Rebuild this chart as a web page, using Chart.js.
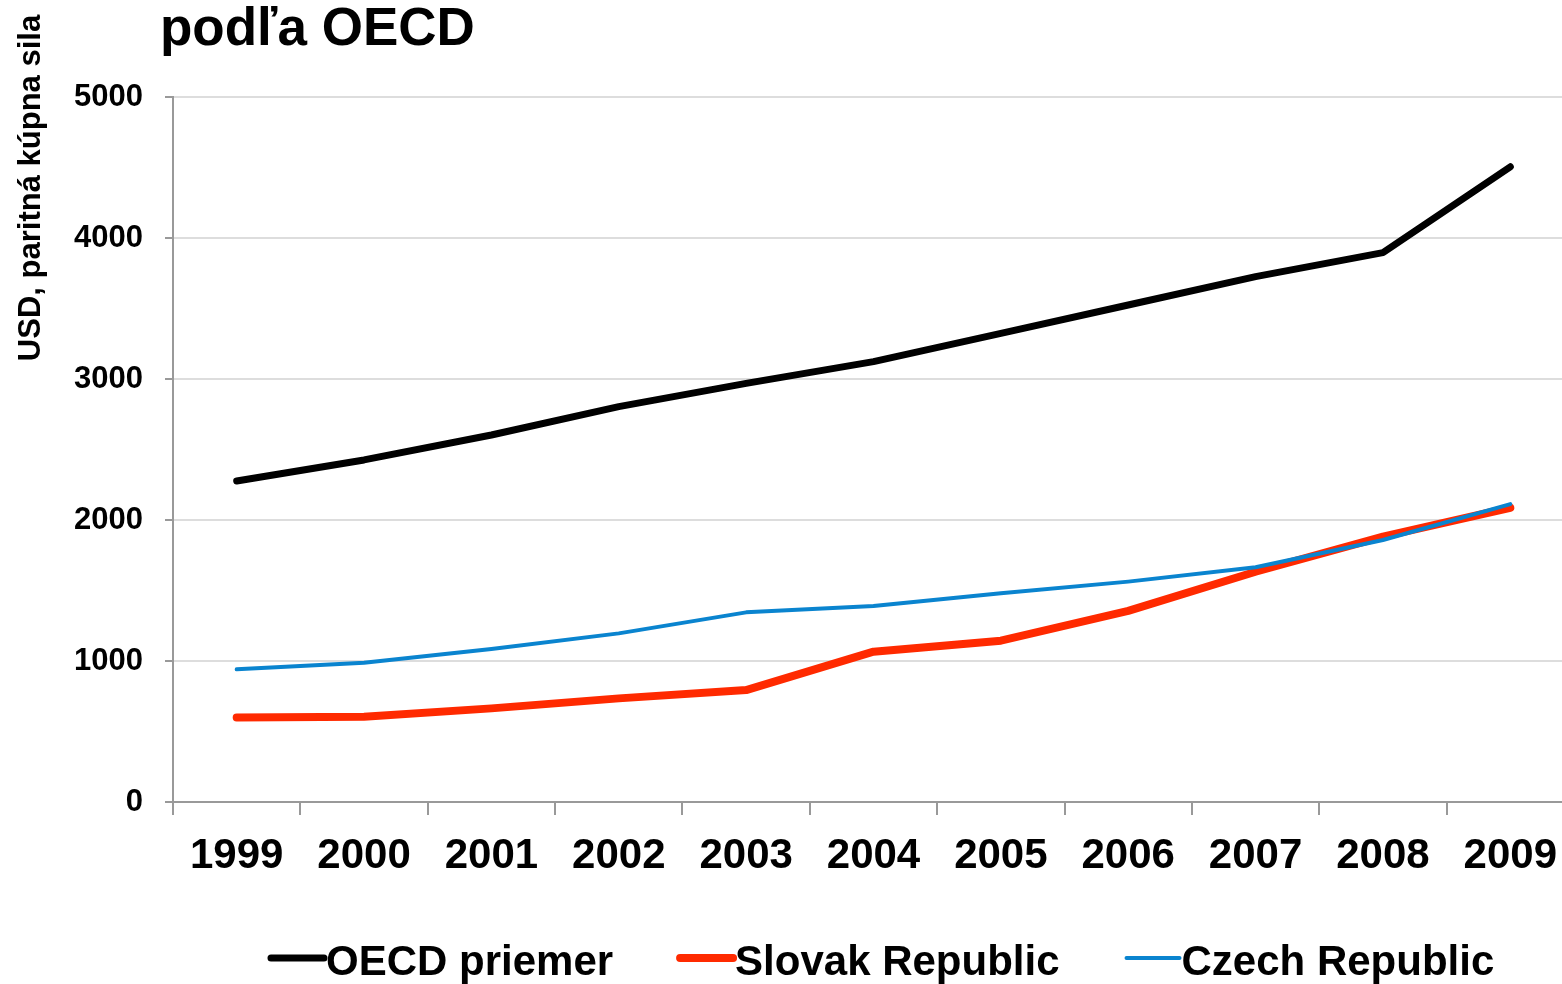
<!DOCTYPE html>
<html>
<head>
<meta charset="utf-8">
<script src="https://cdn.jsdelivr.net/npm/chart.js@4"></script>
<style>
  html, body { margin: 0; padding: 0; background: #fff; overflow: hidden; }
  #wrap { width: 1574px; height: 984px; position: relative; }
</style>
</head>
<body>
<div id="wrap"><canvas id="chart"></canvas></div>
<script>
const YEARS = ["1999", "2000", "2001", "2002", "2003", "2004", "2005", "2006", "2007", "2008", "2009"];
const OECD_AVG = [2277, 2426, 2603, 2804, 2969, 3123, 3324, 3525, 3726, 3896, 4505];
const SLOVAK = [600, 605, 664, 735, 794, 1066, 1144, 1355, 1633, 1882, 2087];
const CZECH = [941, 988, 1085, 1196, 1345, 1390, 1480, 1563, 1665, 1858, 2113];
const Y_TICKS = [0, 1000, 2000, 3000, 4000, 5000];

const TITLE = "podľa OECD";
const Y_TITLE = "USD, paritná kúpna sila";
const FONT = "'Liberation Sans', Arial, sans-serif";

// titulok, popis osi y a legenda kreslene rucne
const decorPlugin = {
  id: "decor",
  afterDraw(chart) {
    const ctx = chart.ctx;
    ctx.save();
    ctx.fillStyle = "#000";
    ctx.font = `bold 53px ${FONT}`;
    ctx.textAlign = "left";
    ctx.textBaseline = "alphabetic";
    ctx.fillText(TITLE, 160, 45);

    ctx.save();
    ctx.translate(31, 188);
    ctx.rotate(-Math.PI / 2);
    ctx.font = `bold 31px ${FONT}`;
    ctx.textAlign = "center";
    ctx.textBaseline = "middle";
    ctx.fillText(Y_TITLE, 0, 0);
    ctx.restore();

    // legenda
    const sample = 58, gap = 64, y = 961;
    ctx.font = `bold 42px ${FONT}`;
    let x = 268;
    chart.data.datasets.forEach((ds) => {
      const w = ctx.measureText(ds.label).width;
      ctx.strokeStyle = ds.borderColor;
      ctx.lineWidth = ds.borderWidth;
      ctx.lineCap = "round";
      ctx.beginPath();
      ctx.moveTo(x + 3, y - 3);
      ctx.lineTo(x + sample - 2, y - 3);
      ctx.stroke();
      ctx.textAlign = "left";
      ctx.textBaseline = "middle";
      ctx.fillText(ds.label, x + sample, y + 2);
      x += sample + w + gap;
    });
    ctx.restore();
  },
};

new Chart(document.getElementById("chart"), {
  type: "line",
  data: {
    labels: YEARS,
    datasets: [
      { label: "OECD priemer", data: OECD_AVG, borderColor: "#000000", borderWidth: 7, order: 2 },
      { label: "Slovak Republic", data: SLOVAK, borderColor: "#ff2a00", borderWidth: 8, order: 1 },
      { label: "Czech Republic", data: CZECH, borderColor: "#0a84cf", borderWidth: 4, order: 0 },
    ],
  },
  options: {
    responsive: true,
    maintainAspectRatio: false,
    animation: false,
    layout: { padding: { top: 97, left: 0, right: 0, bottom: 0 } },
    elements: {
      point: { radius: 0, hoverRadius: 0 },
      line: { tension: 0, borderCapStyle: "round", borderJoinStyle: "round" },
    },
    plugins: { legend: { display: false }, tooltip: { enabled: false } },
    scales: {
      x: {
        offset: true,
        afterFit: (s) => { s.height = 182; },
        grid: { offset: true, drawOnChartArea: false, tickLength: 13, color: "#999", lineWidth: 2 },
        border: { color: "#999", width: 2 },
        ticks: { color: "#000", font: { family: FONT, size: 42, weight: "bold" }, padding: 16, maxRotation: 0 },
      },
      y: {
        min: 0,
        max: 5000,
        afterFit: (s) => { s.width = 173; },
        afterBuildTicks: (s) => { s.ticks = Y_TICKS.map((v) => ({ value: v })); },
        grid: { color: "#dddddd", lineWidth: 2, tickColor: "#999", tickLength: 8 },
        border: { color: "#999", width: 2 },
        ticks: {
          color: "#000",
          font: { family: FONT, size: 31, weight: "bold" },
          padding: 22,
          callback: (v) => String(v),
        },
      },
    },
  },
  plugins: [decorPlugin],
});
</script>
</body>
</html>
